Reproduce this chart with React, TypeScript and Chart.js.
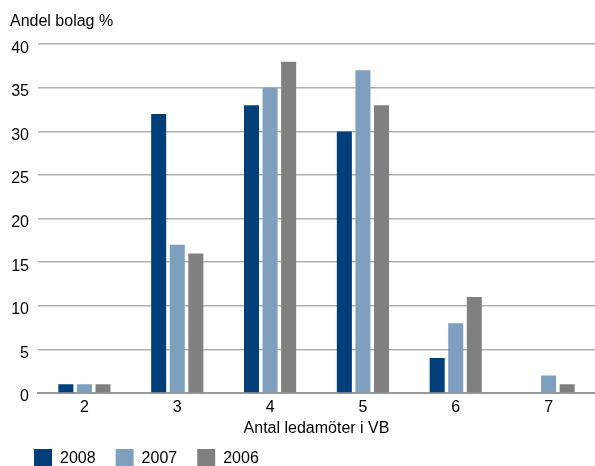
import React, { useEffect, useRef } from "react";
import { Chart, registerables } from "chart.js";

Chart.register(...registerables);

const categories = ["2", "3", "4", "5", "6", "7"];
const series2008 = [1, 32, 33, 30, 4, 0.1];
const series2007 = [1, 17, 35, 37, 8, 2];
const series2006 = [1, 16, 38, 33, 11, 1];
const seriesLabels = ["2008", "2007", "2006"];
const seriesColors = ["#003f7a", "#7f9fbf", "#808080"];
const yTicks = [0, 5, 10, 15, 20, 25, 30, 35, 40];

const FONT = "'Liberation Sans', Arial, sans-serif";
const FS = 16;

const bottomLegend = {
  id: "bottomLegend",
  afterDraw(chart: any) {
    const ctx = chart.ctx;
    ctx.save();
    ctx.font = `${FS}px ${FONT}`;
    ctx.textBaseline = "middle";
    ctx.textAlign = "left";
    let x = 34;
    const boxTop = 449;
    const box = 18;
    chart.data.datasets.forEach((ds: any) => {
      ctx.fillStyle = ds.backgroundColor;
      ctx.fillRect(x, boxTop, box, box);
      ctx.fillStyle = "#000";
      ctx.fillText(ds.label, x + box + 8, boxTop + box / 2 + 1);
      x += box + 8 + ctx.measureText(ds.label).width + 20;
    });
    ctx.restore();
  },
};

export default function App() {
  const ref = useRef<HTMLCanvasElement | null>(null);
  useEffect(() => {
    document.body.style.margin = "0";
    const ctx = ref.current!;
    const datasetsData = [series2008, series2007, series2006];
    const chart = new Chart(ctx, {
      type: "bar",
      data: {
        labels: categories,
        datasets: datasetsData.map((d, i) => ({
          label: seriesLabels[i],
          data: d,
          backgroundColor: seriesColors[i],
        })),
      },
      plugins: [bottomLegend],
      options: {
        animation: false,
        responsive: true,
        maintainAspectRatio: false,
        layout: { padding: { left: 10, right: 0, top: 0, bottom: 27.4 } },
        datasets: {
          bar: { barPercentage: 0.81, categoryPercentage: 0.6 },
        },
        plugins: {
          title: {
            display: true,
            text: "Andel bolag %",
            align: "start",
            color: "#000",
            font: { family: FONT, size: FS, weight: "normal" },
            padding: { top: 12, bottom: 13 },
          },
          legend: { display: false },
          tooltip: { enabled: false },
        },
        scales: {
          x: {
            afterFit: (axis: any) => {
              axis.height = 45.6;
            },
            grid: { display: false, drawTicks: false },
            border: { display: true, color: "#999", width: 2 },
            ticks: { color: "#000", font: { family: FONT, size: FS }, padding: 5 },
            title: {
              display: true,
              text: "Antal ledamöter i VB",
              color: "#000",
              font: { family: FONT, size: FS },
              padding: { top: 1, bottom: 0 },
            },
          },
          y: {
            min: 0,
            max: 40,
            afterBuildTicks: (axis: any) => {
              axis.ticks = yTicks.map((v) => ({ value: v }));
            },
            afterFit: (axis: any) => {
              axis.width = 28;
            },
            grid: { color: "#b0b0b0", lineWidth: 1.5, drawTicks: false },
            border: { display: false },
            ticks: {
              color: "#000",
              font: { family: FONT, size: FS },
              padding: 9,
              labelOffset: 4,
            },
          },
        },
      },
    });
    return () => chart.destroy();
  }, []);
  return (
    <div style={{ position: "relative", width: 595, height: 466 }}>
      <canvas ref={ref} />
    </div>
  );
}
